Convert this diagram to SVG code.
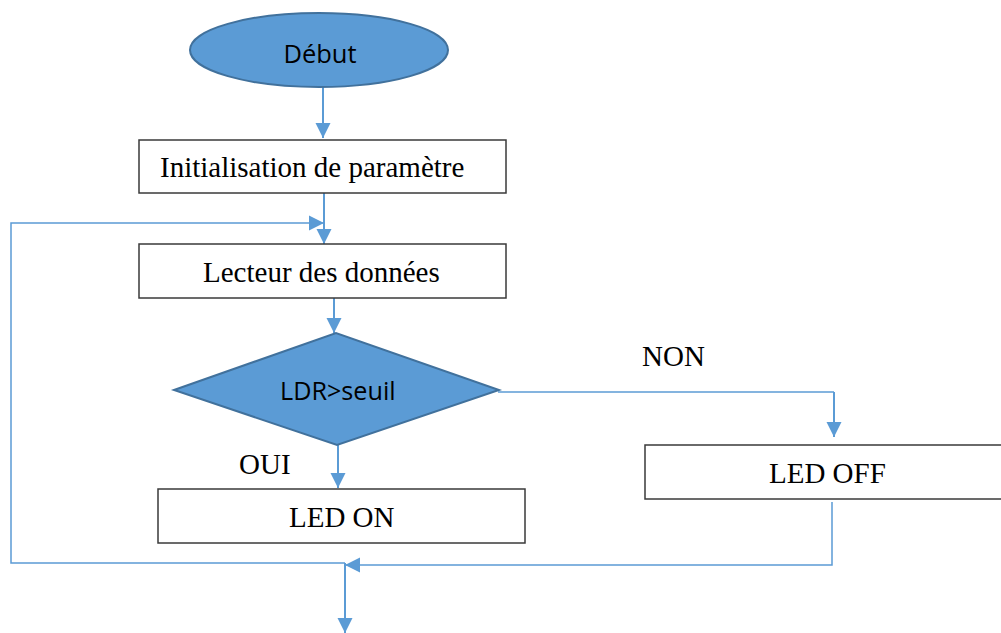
<svg xmlns="http://www.w3.org/2000/svg" width="1001" height="633" viewBox="0 0 1001 633">
<style>
.box{fill:#ffffff;stroke:#3a3a3a;stroke-width:1.5}
.shape{fill:#5b9bd5;stroke:#41719c;stroke-width:2}
.serif{font-family:"Liberation Serif","Times New Roman",serif;font-size:29px;fill:#000}
.sans{font-family:"Open Sans","Liberation Sans",sans-serif;fill:#000}
.c{fill:none;stroke:#5b9bd5;stroke-width:2}
.t{fill:none;stroke:#5b9bd5;stroke-width:1.5}
</style>
<defs>
<marker id="ah" markerUnits="userSpaceOnUse" markerWidth="17" markerHeight="17" refX="15" refY="7.5" orient="auto" viewBox="0 0 17 15">
<path d="M0,0 L15,7.5 L0,15 z" fill="#5b9bd5"/>
</marker>
</defs>
<rect width="1001" height="633" fill="#ffffff"/>
<g id="connectors">
<path class="c" d="M323,87 L323,138" marker-end="url(#ah)"/>
<path class="c" d="M324,192 L324,244" marker-end="url(#ah)"/>
<path class="t" d="M345,563 L11,563 L11,223 L324,223" marker-end="url(#ah)"/>
<path class="c" d="M334,278 L334,333" marker-end="url(#ah)"/>
<path class="c" d="M338,445 L338,488" marker-end="url(#ah)"/>
<path class="t" d="M498,392 L834,392"/>
<path class="c" d="M834,392 L834,437" marker-end="url(#ah)"/>
<path class="t" d="M832,502 L832,565 L345,565" marker-end="url(#ah)"/>
<path class="c" d="M345,563 L345,633" marker-end="url(#ah)"/>
</g>
<g id="debut">
<ellipse class="shape" cx="319" cy="50" rx="129" ry="37"/>
<text class="sans" x="320" y="63" font-size="25.5" text-anchor="middle">Début</text>
</g>
<g id="init">
<rect class="box" x="139" y="140" width="367" height="53"/>
<text class="serif" x="160" y="177">Initialisation de paramètre</text>
</g>
<g id="lecteur">
<rect class="box" x="139" y="244" width="367" height="54"/>
<text class="serif" x="203" y="282">Lecteur des données</text>
</g>
<g id="decision">
<polygon class="shape" points="174,390 336,333 499,390 337,445"/>
<text class="sans" x="280" y="400" font-size="25.2">LDR&gt;seuil</text>
</g>
<g id="label-oui">
<text class="serif" x="239" y="474">OUI</text>
</g>
<g id="label-non">
<text class="serif" x="642" y="366">NON</text>
</g>
<g id="led-on">
<rect class="box" x="158" y="489" width="367" height="54"/>
<text class="serif" x="289" y="527">LED ON</text>
</g>
<g id="led-off">
<rect class="box" x="645" y="445" width="370" height="54"/>
<text class="serif" x="769" y="483">LED OFF</text>
</g>
</svg>
